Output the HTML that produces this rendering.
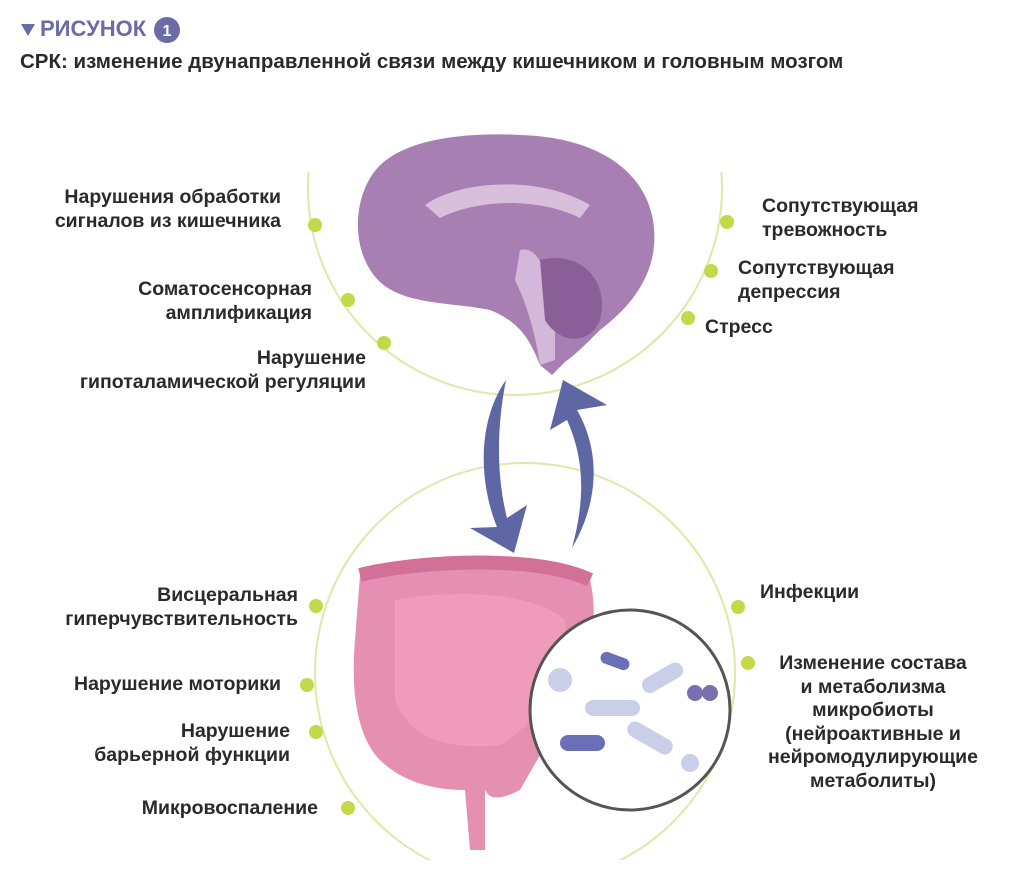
<!DOCTYPE html>
<html><head><meta charset="utf-8"><style>
body{margin:0;background:#fff;}
.w{position:relative;width:1024px;height:884px;font-family:"Liberation Sans",sans-serif;overflow:hidden}
.t{position:absolute;font-weight:bold;font-size:19.5px;line-height:23.5px;color:#2a2a2a;white-space:nowrap}
.r{text-align:right}
</style></head><body><div class="w">
<svg width="1024" height="884" style="position:absolute;left:0;top:0">
<defs>
<clipPath id="c1"><rect x="0" y="172" width="1024" height="400"/></clipPath>
<clipPath id="c2"><rect x="0" y="440" width="1024" height="420"/></clipPath>
</defs>
<path d="M21 24 L35 24 L28 36 Z" fill="#6b6ba8"/>
<circle cx="167" cy="30" r="13" fill="#6b6ba8"/>
<text x="167" y="36" font-family="Liberation Sans" font-weight="bold" font-size="16" fill="#fff" text-anchor="middle">1</text>
<circle cx="515" cy="188" r="207" fill="none" stroke="#dfe8a8" stroke-width="2" clip-path="url(#c1)"/>
<circle cx="525" cy="673" r="210" fill="none" stroke="#dfe8a8" stroke-width="2" clip-path="url(#c2)"/>
<path d="M372 175 C395 140 460 132 520 135 C590 137 640 165 652 215 C662 262 640 300 600 330 C585 345 575 355 565 362 L552 375 L540 365 C530 340 520 322 490 310 C450 302 405 305 380 282 C352 255 352 205 372 175 Z" fill="#a77fb2"/>
<path d="M425 205 C460 180 540 175 590 205 L580 218 C540 198 480 198 440 218 Z" fill="#d8c0dc"/>
<path d="M520 250 C540 245 545 275 555 300 L555 360 L540 365 C535 330 525 300 515 280 Z" fill="#d4b8da"/>
<path d="M540 260 C580 250 610 280 600 320 C590 345 560 345 545 320 Z" fill="#8a5f98"/>
<path d="M506 380 C478 420 478 480 497 527 L470 528 L514 553 L527 505 L507 518 C495 470 498 420 506 380 Z" fill="#5e66a3"/>
<path d="M572 548 C600 500 600 450 577 410 L607 405 L563 380 L550 430 L567 420 C585 460 585 500 572 548 Z" fill="#5e66a3"/>
<path d="M360 575 C390 560 450 555 500 560 C540 562 580 560 590 580 C600 620 590 680 560 720 L520 790 C500 800 490 800 485 790 L485 850 L470 850 L465 790 C430 790 400 780 380 760 C360 740 350 700 355 640 Z" fill="#e590b0"/>
<path d="M360 575 C420 560 540 555 590 580" stroke="#d27098" stroke-width="14" fill="none"/>
<path d="M395 600 C450 590 530 590 565 620 C570 680 540 720 500 745 C450 750 410 740 395 700 Z" fill="#ee9cba"/>
<circle cx="630" cy="710" r="100" fill="#fff" stroke="#555" stroke-width="3"/>
<rect x="585" y="700" width="55" height="16" rx="8" fill="#c9cfe8"/>
<rect x="640" y="670" width="45" height="16" rx="8" fill="#c9cfe8" transform="rotate(-30 662 678)"/>
<rect x="560" y="735" width="45" height="16" rx="8" fill="#6a6fb8"/>
<rect x="625" y="730" width="50" height="16" rx="8" fill="#c9cfe8" transform="rotate(30 650 738)"/>
<rect x="600" y="655" width="30" height="12" rx="6" fill="#6a6fb8" transform="rotate(20 615 661)"/>
<circle cx="695" cy="693" r="8" fill="#7a6fb0"/><circle cx="710" cy="693" r="8" fill="#7a6fb0"/>
<circle cx="690" cy="763" r="9" fill="#c9cfe8"/>
<circle cx="560" cy="680" r="12" fill="#c9cfe8"/>
<g fill="#c5d84a">
<circle cx="315" cy="225" r="7"/><circle cx="348" cy="300" r="7"/><circle cx="384" cy="343" r="7"/>
<circle cx="727" cy="222" r="7"/><circle cx="711" cy="271" r="7"/><circle cx="688" cy="318" r="7"/>
<circle cx="316" cy="606" r="7"/><circle cx="307" cy="685" r="7"/><circle cx="316" cy="732" r="7"/><circle cx="348" cy="808" r="7"/>
<circle cx="738" cy="607" r="7"/><circle cx="748" cy="663" r="7"/>
</g>
</svg>
<div class="t" style="left:40px;top:17px;font-size:22px;color:#6b6ba8">РИСУНОК</div>
<div class="t" style="left:20px;top:50px;font-size:20.5px">СРК: изменение двунаправленной связи между кишечником и головным мозгом</div>
<div class="t r" style="right:743px;top:186px">Нарушения обработки<br>сигналов из кишечника</div>
<div class="t r" style="right:712px;top:278px">Соматосенсорная<br>амплификация</div>
<div class="t r" style="right:658px;top:347px">Нарушение<br>гипоталамической регуляции</div>
<div class="t" style="left:762px;top:195px">Сопутствующая<br>тревожность</div>
<div class="t" style="left:738px;top:257px">Сопутствующая<br>депрессия</div>
<div class="t" style="left:705px;top:316px">Стресс</div>
<div class="t r" style="right:726px;top:584px">Висцеральная<br>гиперчувствительность</div>
<div class="t r" style="right:743px;top:673px">Нарушение моторики</div>
<div class="t r" style="right:734px;top:720px">Нарушение<br>барьерной функции</div>
<div class="t r" style="right:706px;top:797px">Микровоспаление</div>
<div class="t" style="left:760px;top:581px">Инфекции</div>
<div class="t" style="left:755px;width:236px;top:652px;text-align:center">Изменение состава<br>и метаболизма<br>микробиоты<br>(нейроактивные и<br>нейромодулирующие<br>метаболиты)</div>
</div></body></html>
